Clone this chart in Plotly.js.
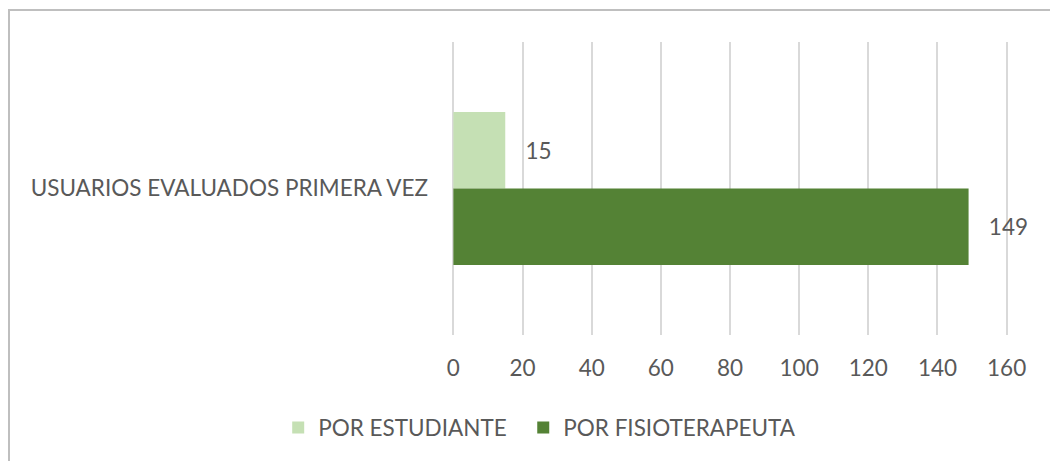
<!DOCTYPE html>
<html>
<head>
<meta charset="utf-8">
<script src="https://cdn.plot.ly/plotly-3.0.1.min.js"></script>
<style>
  html, body { margin: 0; padding: 0; background: #fff; }
  #chart { position: absolute; left: 0; top: 0; width: 1050px; height: 461px; }
  #frame { position: absolute; left: 8px; top: 9px; width: 1042px; height: 452px;
           border-top: 2px solid #bfbfbf; border-left: 2px solid #bfbfbf; pointer-events: none; box-sizing: border-box; }
</style>
</head>
<body>
<div id="chart"></div>
<div id="frame"></div>
<script>
const categories = ["USUARIOS EVALUADOS PRIMERA VEZ"];
const seriesNames = ["POR ESTUDIANTE", "POR FISIOTERAPEUTA"];
const porEstudiante = [15];
const porFisioterapeuta = [149];
const seriesColors = ["#C5E0B4", "#548235"];
const xTicks = [0, 20, 40, 60, 80, 100, 120, 140, 160];

const FONT = "Lato, 'Open Sans', sans-serif";
const GRAY = "#595959";
const FS = 22.5;
const NB = "\u00a0";

const mk = (name, vals, color) => ({
  type: "bar",
  orientation: "h",
  name: name,
  y: categories,
  x: vals,
  marker: { color: color },
  texttemplate: NB + NB + NB + "%{x}",
  textposition: "outside",
  cliponaxis: false,
  textfont: { family: FONT, size: FS, color: GRAY },
  hoverinfo: "none"
});

const data = [
  mk(seriesNames[0] + NB + NB, porEstudiante, seriesColors[0]),
  mk(seriesNames[1], porFisioterapeuta, seriesColors[1])
];

const layout = {
  width: 1050, height: 461,
  margin: { l: 451.6, r: 41.6, t: 42, b: 126 },
  paper_bgcolor: "rgba(0,0,0,0)",
  plot_bgcolor: "rgba(0,0,0,0)",
  barmode: "group",
  bargap: 0.478,
  bargroupgap: 0,
  font: { family: FONT, size: FS, color: GRAY },
  xaxis: {
    range: [-0.4, 160.4],
    tickvals: xTicks,
    ticktext: xTicks.map(String),
    showgrid: true,
    gridcolor: "#d9d9d9",
    gridwidth: 2,
    zeroline: false,
    showline: false,
    ticks: "",
    ticklabelstandoff: 17,
    tickfont: { family: FONT, size: FS, color: GRAY },
    fixedrange: true
  },
  yaxis: {
    autorange: "reversed",
    showgrid: false,
    zeroline: false,
    showline: false,
    ticks: "",
    ticklabelstandoff: 23,
    tickfont: { family: FONT, size: FS, color: GRAY },
    fixedrange: true
  },
  showlegend: true,
  legend: {
    orientation: "h",
    xref: "container", yref: "container",
    x: 0.514, xanchor: "center",
    y: 0.072, yanchor: "middle",
    font: { family: FONT, size: FS, color: GRAY },
    itemwidth: 30,
    traceorder: "normal"
  }
};

Plotly.newPlot("chart", data, layout, { displayModeBar: false, staticPlot: true });
</script>
</body>
</html>
